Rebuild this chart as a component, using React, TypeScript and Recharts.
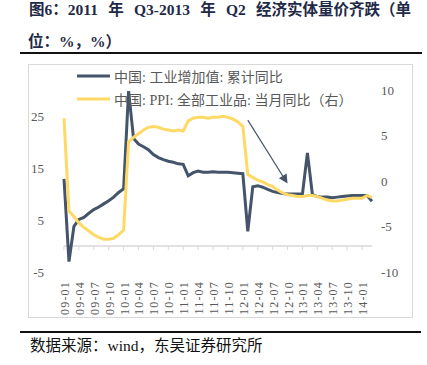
import { LineChart, Line, XAxis, YAxis, ReferenceLine, Legend } from "recharts";

const SERIF = '"Liberation Serif", "Times New Roman", "Noto Sans CJK SC", serif';
const GRAY = "#595959";
const AXIS = "#d9d9d9";
const BLUE = "#44546a";
const YELLOW = "#ffd966";

// 月份（首个点 08-12 为起始值）
const months = [
  "08-12",
  "09-01", "09-02", "09-03", "09-04", "09-05", "09-06", "09-07", "09-08", "09-09", "09-10", "09-11", "09-12",
  "10-01", "10-02", "10-03", "10-04", "10-05", "10-06", "10-07", "10-08", "10-09", "10-10", "10-11", "10-12",
  "11-01", "11-02", "11-03", "11-04", "11-05", "11-06", "11-07", "11-08", "11-09", "11-10", "11-11", "11-12",
  "12-01", "12-02", "12-03", "12-04", "12-05", "12-06", "12-07", "12-08", "12-09", "12-10", "12-11", "12-12",
  "13-01", "13-02", "13-03", "13-04", "13-05", "13-06", "13-07", "13-08", "13-09", "13-10", "13-11", "13-12",
  "14-01", "14-02",
];

// 中国: 工业增加值: 累计同比 (左轴)
const ivaCum = [
  12.9,
  -3.0, 3.8, 5.1, 5.5, 6.3, 7.0, 7.5, 8.1, 8.7, 9.4, 10.3, 11.0,
  29.8, 20.7, 19.6, 19.1, 18.5, 17.6, 17.0, 16.6, 16.3, 16.1, 15.8, 15.7,
  13.5, 14.1, 14.4, 14.2, 14.2, 14.3, 14.2, 14.2, 14.2, 14.1, 14.0, 13.9,
  2.8, 11.4, 11.6, 11.3, 10.9, 10.5, 10.3, 10.1, 10.0, 10.0, 10.0, 10.0,
  17.9, 9.9, 9.5, 9.4, 9.4, 9.3, 9.4, 9.5, 9.6, 9.7, 9.7, 9.7,
  9.7, 8.6,
];

// 中国: PPI: 全部工业品 (右轴)
const ppi = [
  6.9,
  -3.3, -3.9, -4.6, -5.1, -5.5, -5.9, -6.2, -6.4, -6.4, -6.3, -5.9, -5.4,
  4.3, 4.8, 5.2, 5.6, 5.9, 6.0, 5.9, 5.7, 5.6, 5.5, 5.6, 5.5,
  6.6, 6.9, 7.0, 7.0, 6.9, 7.0, 7.0, 7.1, 7.0, 6.8, 6.5, 6.0,
  0.7, 0.4, 0.1, -0.1, -0.4, -0.6, -1.0, -1.3, -1.5, -1.6, -1.7, -1.7,
  -1.6, -1.6, -1.7, -1.9, -2.1, -2.2, -2.2, -2.1, -2.0, -1.9, -1.9, -1.9,
  -1.6, -1.8,
];

const xTickLabels = [
  "09-01", "09-04", "09-07", "09-10", "10-01", "10-04", "10-07", "10-10",
  "11-01", "11-04", "11-07", "11-10", "12-01", "12-04", "12-07", "12-10",
  "13-01", "13-04", "13-07", "13-10", "14-01",
];

const xTickMarks = [
  "08-12", "09-03", "09-06", "09-09", "09-12", "10-03", "10-06", "10-09", "10-12",
  "11-03", "11-06", "11-09", "11-12", "12-03", "12-06", "12-09", "12-12",
  "13-03", "13-06", "13-09", "13-12",
];

const leftTicks = [-5, 5, 15, 25];
const rightTicks = [-10, -5, 0, 5, 10];

const seriesNames = ["中国: 工业增加值: 累计同比", "中国: PPI: 全部工业品: 当月同比（右）"];
const seriesColors = [BLUE, YELLOW];

const data = months.map((m, i) => ({ month: m, iva: ivaCum[i], ppi: ppi[i] }));

const MonthTick = ({ x, y, payload }: any) => {
  if (!xTickLabels.includes(payload.value)) return null;
  return (
    <text
      x={x}
      y={y}
      transform={`rotate(-90 ${x} ${y})`}
      textAnchor="end"
      fill={GRAY}
      fontSize={12}
      letterSpacing={1.2}
      fontFamily={SERIF}
    >
      {payload.value}
    </text>
  );
};

const Arrow = (props: any) => {
  const { x1, y1, x2, y2 } = props;
  const a = Math.atan2(y2 - y1, x2 - x1);
  const len = 9;
  const half = 4.5;
  const bx = x2 - len * Math.cos(a);
  const by = y2 - len * Math.sin(a);
  const pts = [
    `${x2},${y2}`,
    `${bx + half * Math.sin(a)},${by - half * Math.cos(a)}`,
    `${bx - half * Math.sin(a)},${by + half * Math.cos(a)}`,
  ].join(" ");
  return (
    <g>
      <line x1={x1} y1={y1} x2={bx} y2={by} stroke={BLUE} strokeWidth={1.2} />
      <polygon points={pts} fill={BLUE} />
    </g>
  );
};

const LegendBox = () => (
  <div style={{ fontFamily: SERIF, fontSize: 14, color: GRAY }}>
    {seriesNames.map((name, i) => (
      <div key={name} style={{ display: "flex", alignItems: "center", height: 23 }}>
        <svg width={39} height={6}>
          <line x1={2} x2={35} y1={3} y2={3} stroke={seriesColors[i]} strokeWidth={3} />
        </svg>
        <span style={{ whiteSpace: "nowrap" }}>{name}</span>
      </div>
    ))}
  </div>
);

export default function App() {
  return (
    <div
      style={{
        position: "absolute",
        left: 0,
        top: 0,
        width: 427,
        height: 365,
        background: "#fff",
        fontFamily: SERIF,
        overflow: "hidden",
      }}
    >
      <div
        style={{
          position: "absolute",
          left: 29,
          top: 0,
          whiteSpace: "nowrap",
          fontSize: 15.5,
          fontWeight: "bold",
          color: "#1f2a48",
          lineHeight: "20px",
          wordSpacing: 6.4,
        }}
      >
        图6：2011 年 Q3-2013 年 Q2 经济实体量价齐跌（单
      </div>
      <div
        style={{
          position: "absolute",
          left: 28,
          top: 32,
          fontSize: 15.5,
          fontWeight: "bold",
          color: "#1f2a48",
          lineHeight: "20px",
        }}
      >
        位：%，%）
      </div>
      <div style={{ position: "absolute", left: 20, top: 52, width: 402, height: 2, background: "#111" }} />
      <div
        style={{
          position: "absolute",
          left: 28,
          top: 64,
          width: 383,
          height: 252,
          border: `1px solid ${AXIS}`,
        }}
      />
      <div style={{ position: "absolute", left: 0, top: 0 }}>
        <LineChart width={427} height={365} data={data} margin={{ top: 90, right: 15, bottom: 63, left: 34 }}>
          <XAxis
            dataKey="month"
            type="category"
            scale="point"
            padding={{ left: 0, right: 0 }}
            interval={0}
            tick={<MonthTick />}
            tickLine={false}
            axisLine={false}
            tickSize={6}
            tickMargin={3}
            height={30}
          />
          <YAxis
            yAxisId="left"
            orientation="left"
            domain={[-5, 30]}
            ticks={leftTicks}
            width={30}
            axisLine={false}
            tickLine={false}
            tickSize={6}
            tickMargin={14}
            tick={{ fill: GRAY, fontSize: 13, fontFamily: SERIF }}
          />
          <YAxis
            yAxisId="right"
            orientation="right"
            domain={[-10, 10]}
            ticks={rightTicks}
            width={40}
            axisLine={false}
            tickLine={false}
            tickSize={6}
            tickMargin={3}
            tick={{ fill: GRAY, fontSize: 13, fontFamily: SERIF, textAnchor: "start" }}
          />
          <ReferenceLine yAxisId="left" y={0} stroke={AXIS} strokeWidth={1.5} />
          {xTickMarks.map((m) => (
            <ReferenceLine
              key={m}
              yAxisId="left"
              segment={[
                { x: m, y: 0 },
                { x: m, y: -0.8 },
              ]}
              stroke={AXIS}
              strokeWidth={1}
            />
          ))}
          <Legend
            content={<LegendBox />}
            layout="vertical"
            align="center"
            verticalAlign="middle"
            wrapperStyle={{ left: 75, top: 64.5, width: 320, height: 46 }}
          />
          <Line
            yAxisId="left"
            dataKey="iva"
            name={seriesNames[0]}
            stroke={BLUE}
            strokeWidth={3}
            dot={false}
            isAnimationActive={false}
          />
          <Line
            yAxisId="right"
            dataKey="ppi"
            name={seriesNames[1]}
            stroke={YELLOW}
            strokeWidth={3}
            dot={false}
            isAnimationActive={false}
          />
          <ReferenceLine
            yAxisId="left"
            segment={[
              { x: "12-01", y: 24.2 },
              { x: "12-09", y: 12.0 },
            ]}
            shape={<Arrow />}
          />
        </LineChart>
      </div>
      <div style={{ position: "absolute", left: 20, top: 331, width: 401, height: 2, background: "#111" }} />
      <div
        style={{
          position: "absolute",
          left: 30,
          top: 336,
          fontSize: 15.5,
          lineHeight: "20px",
          color: "#111",
          whiteSpace: "nowrap",
        }}
      >
        数据来源：wind，东吴证券研究所
      </div>
    </div>
  );
}
